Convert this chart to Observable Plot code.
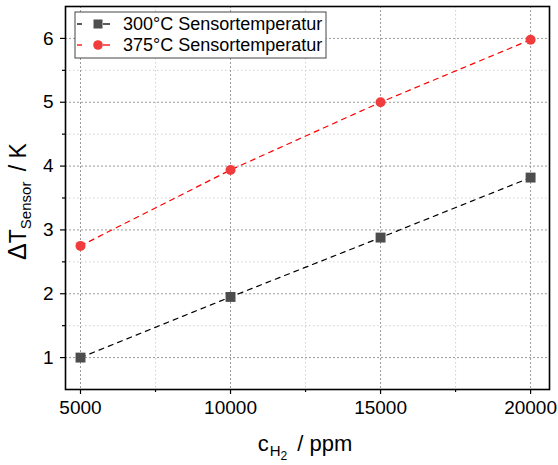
<!DOCTYPE html>
<html>
<head>
<meta charset="utf-8">
<script src="https://cdn.jsdelivr.net/npm/d3@7"></script>
<script src="https://cdn.jsdelivr.net/npm/@observablehq/plot@0.6"></script>
<style>
  html, body { margin: 0; padding: 0; background: #fff; }
  #chart { width: 558px; height: 465px; }
</style>
</head>
<body>
<div id="chart"></div>
<script>
// Data
const conc = [5000, 10000, 15000, 20000];
const t300 = [1.0, 1.95, 2.88, 3.82];
const t375 = [2.75, 3.94, 5.0, 5.98];
const seriesNames = ["300°C Sensortemperatur", "375°C Sensortemperatur"];
const xTicks = [5000, 10000, 15000, 20000];
const xMinor = [7500, 12500, 17500];
const yTicks = [1, 2, 3, 4, 5, 6];
const yMinor = [1.5, 2.5, 3.5, 4.5, 5.5];

const d300 = conc.map((c, i) => ({c, t: t300[i]}));
const d375 = conc.map((c, i) => ({c, t: t375[i]}));

const lineCol = ["#000000", "#ff0000"];
const dotCol = ["#4d4d4d", "#f03c3c"];
const font = "'Liberation Sans', Arial, sans-serif";

const plot = Plot.plot({
  width: 558,
  height: 465,
  marginLeft: 65,
  marginRight: 9,
  marginTop: 6,
  marginBottom: 76,
  x: {domain: [4500, 20630]},
  y: {domain: [0.5, 6.5]},
  style: {fontFamily: font, fontSize: "19px", color: "#000", background: "#fff"},
  marks: [
    Plot.gridX(xMinor, {stroke: "#d0d0d0", strokeOpacity: 1, strokeDasharray: "1.5,2.5"}),
    Plot.gridY(yMinor, {stroke: "#d0d0d0", strokeOpacity: 1, strokeDasharray: "1.5,2.5"}),
    Plot.gridX(xTicks, {stroke: "#9a9a9a", strokeOpacity: 1, strokeDasharray: "2,2"}),
    Plot.gridY(yTicks, {stroke: "#9a9a9a", strokeOpacity: 1, strokeDasharray: "2,2"}),
    Plot.axisX(xTicks, {tickSize: 5, tickPadding: 6, label: null, fontSize: 19, strokeWidth: 1.2, tickFormat: d3.format("d")}),
    Plot.axisX(xMinor, {tickSize: 3, text: null, label: null, strokeWidth: 1.2}),
    Plot.axisY(yTicks, {tickSize: 5, tickPadding: 7, label: null, fontSize: 19, strokeWidth: 1.2, tickFormat: d3.format("d")}),
    Plot.axisY(yMinor, {tickSize: 3, text: null, label: null, strokeWidth: 1.2}),
    Plot.line(d300, {x: "c", y: "t", stroke: lineCol[0], strokeWidth: 1.2, strokeDasharray: "5,5"}),
    Plot.line(d375, {x: "c", y: "t", stroke: lineCol[1], strokeWidth: 1.2, strokeDasharray: "5,5"}),
    Plot.dot(d300, {x: "c", y: "t", symbol: "square", r: 5.6, fill: dotCol[0], stroke: "none"}),
    Plot.dot(d375, {x: "c", y: "t", symbol: "circle", r: 5, fill: dotCol[1], stroke: "none"}),
    Plot.frame({stroke: "#000", strokeWidth: 1.6})
  ]
});

const svg = d3.select(plot);
const xs = plot.scale("x"), ys = plot.scale("y");
const fLeft = xs.range[0], fRight = xs.range[1];
const fTop = ys.range[1], fBottom = ys.range[0];

// X axis label: c_H2 / ppm
const xl = svg.append("text")
  .attr("x", (fLeft + fRight) / 2 - 2)
  .attr("y", 451)
  .attr("text-anchor", "middle")
  .attr("font-family", font)
  .attr("font-size", 22)
  .attr("fill", "#000");
xl.append("tspan").text("c");
xl.append("tspan").attr("font-size", 15).attr("dy", 5).attr("dx", 1).text("H");
xl.append("tspan").attr("font-size", 12).attr("dy", 4).text("2");
xl.append("tspan").attr("dy", -9).attr("dx", 4).text(" / ppm");

// Y axis label: ΔT_Sensor / K
const yl = svg.append("text")
  .attr("transform", `translate(26,${(fTop + fBottom) / 2 + 4}) rotate(-90)`)
  .attr("text-anchor", "middle")
  .attr("font-family", font)
  .attr("font-size", 23)
  .attr("fill", "#000");
yl.append("tspan").attr("font-size", 25).text("Δ");
yl.append("tspan").text("T");
yl.append("tspan").attr("font-size", 15).attr("dy", 5).text("Sensor");
yl.append("tspan").attr("dy", -5).attr("dx", 4).text(" / K");

// Legend
const lg = svg.append("g").attr("transform", "translate(75,12)");
lg.append("rect").attr("width", 251).attr("height", 46)
  .attr("fill", "#fff").attr("stroke", "#444").attr("stroke-width", 1);
seriesNames.forEach((name, i) => {
  const cy = 12 + i * 21;
  const g = lg.append("g").attr("transform", `translate(0,${cy})`);
  g.append("line").attr("x1", 2).attr("x2", 7).attr("y1", 0).attr("y2", 0)
    .attr("stroke", lineCol[i]).attr("stroke-width", 1.3);
  g.append("line").attr("x1", 28).attr("x2", 35).attr("y1", 0).attr("y2", 0)
    .attr("stroke", lineCol[i]).attr("stroke-width", 1.3);
  if (i === 0) {
    g.append("rect").attr("x", 23 - 4.5).attr("y", -4.5).attr("width", 9).attr("height", 9)
      .attr("fill", dotCol[i]);
  } else {
    g.append("circle").attr("cx", 23).attr("cy", 0).attr("r", 4.8).attr("fill", dotCol[i]);
  }
  g.append("text").attr("x", 48).attr("y", 0).attr("dy", "0.35em")
    .attr("text-anchor", "start")
    .attr("font-family", font).attr("font-size", 18).attr("fill", "#000").text(name);
});

document.getElementById("chart").appendChild(plot);
</script>
</body>
</html>
